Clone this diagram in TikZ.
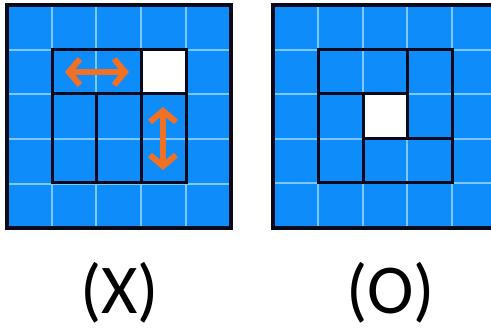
\documentclass[tikz,border=0pt]{standalone}
\usepackage{fontspec}
\setmainfont{Carlito}
\usetikzlibrary{arrows.meta}
\definecolor{cellblue}{RGB}{14,140,250}
\definecolor{gridlight}{RGB}{125,200,255}
\definecolor{arroworange}{RGB}{240,112,36}
\definecolor{bordark}{RGB}{8,10,28}
\tikzset{
  lightline/.style={gridlight, line width=1.8pt},
  boldline/.style={bordark, line width=3pt},
  outerline/.style={bordark, line width=3.5pt},
  moveArrow/.style={arroworange, line width=6pt, {Straight Barb[length=11pt,width=26pt,line width=6pt]}-{Straight Barb[length=11pt,width=26pt,line width=6pt]}},
  caption/.style={font=\fontsize{70}{80}\selectfont, inner sep=0pt}
}
\begin{document}
\begin{tikzpicture}[x=1pt,y=-1pt]
\useasboundingbox (0,0) rectangle (491,334);
\clip (0,0) rectangle (491,334);
\fill[white] (0,0) rectangle (491,334);
% ---------- left grid (X)
\fill[cellblue] (7,5) rectangle (231,228);
\foreach \v in {52,96,141,186} {
  \draw[lightline] (\v,5) -- (\v,228);
  \draw[lightline] (7,\v-2) -- (231,\v-2);
}
\fill[white] (141,50) rectangle (186,94);
\draw[boldline] (52,50) rectangle (186,183);
\draw[boldline] (52,94) -- (186,94);
\draw[boldline] (141,50) -- (141,183);
\draw[boldline] (96,94) -- (96,183);
\draw[outerline] (7,5) rectangle (231,228);
\coordinate (hl) at (65,72);
\coordinate (hr) at (129,72);
\coordinate (vt) at (163,107);
\coordinate (vb) at (163,170);
\draw[moveArrow] (hl) -- (hr);
\draw[moveArrow] (vt) -- (vb);
% ---------- right grid (O)
\fill[cellblue] (273,5) rectangle (497,228);
\foreach \v in {318,363,407,452} {
  \draw[lightline] (\v,5) -- (\v,228);
}
\foreach \v in {50,94,139,183} {
  \draw[lightline] (273,\v) -- (497,\v);
}
\fill[white] (363,94) rectangle (407,139);
\draw[boldline] (318,50) rectangle (452,183);
\draw[boldline] (363,94) rectangle (407,139);
\draw[boldline] (407,50) -- (407,94);
\draw[boldline] (318,94) -- (363,94);
\draw[boldline] (363,139) -- (363,183);
\draw[boldline] (407,139) -- (452,139);
\draw[outerline] (497,228) -- (273,228) -- (273,5) -- (497,5);
% ---------- captions
\node[caption] (capX) at (119.5,293) {(X)};
\node[caption] (capO) at (390.5,293) {(O)};
\end{tikzpicture}
\end{document}
